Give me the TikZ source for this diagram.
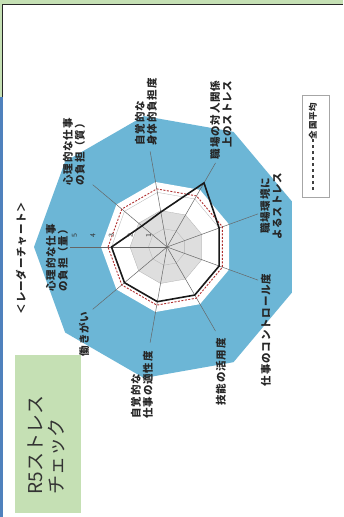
\documentclass[tikz,border=0pt]{standalone}
\usepackage{fontspec}
\usepackage{tikz}
\usetikzlibrary{calc}
\newfontfamily\jp{Noto Sans CJK JP}
\newfontfamily\jplbl[LetterSpace=8]{Noto Sans CJK JP}
\definecolor{bandblue}{RGB}{108,182,214}
\definecolor{memogreen}{RGB}{197,224,180}
\definecolor{edgeblue}{RGB}{79,129,189}
\definecolor{avgred}{RGB}{175,45,45}
\newcommand{\lvl}{18.5}
\newcommand{\nonagon}[1]{($(ctr)+(180:#1)$) \foreach \k in {1,...,8}{ -- ($(ctr)+(180+40*\k:#1)$)} -- cycle}

\begin{document}
\begin{tikzpicture}
  [x=1pt, y=-1pt,
  lbl/.style={font=\jplbl\bfseries\fontsize{10.5}{12}\selectfont, rotate=90, align=center, inner sep=0pt, text=black!85},
  tick/.style={font=\sffamily\fontsize{7.5}{8}\selectfont, rotate=90, inner sep=0pt, text=black!80},
  spoke/.style={draw=black!60, line width=0.5pt},
  gridline/.style={draw=black!30, line width=0.3pt},
  avgline/.style={draw=avgred, dash pattern=on 2pt off 1.5pt, line width=0.9pt},
  selfline/.style={draw=black!90, line width=1.6pt, line join=miter}]
  \useasboundingbox (0,0) rectangle (343,517);
  \fill[white] (0,0) rectangle (343,517);
  % frame
  \fill[memogreen] (0,0) rectangle (343,4);
  \fill[memogreen] (0,0) rectangle (2,97);
  \fill[edgeblue] (0,97) rectangle (3,517);
  \draw[black!85, line width=1.3pt] (2.7,97) -- (2.7,4.6) -- (343,4.6);

  \coordinate (ctr) at (167,247);
  % band and grid
  \fill[bandblue] \nonagon{133};
  \fill[white] \nonagon{66};
  \fill[black!13] \nonagon{37};
  \foreach \n in {1,2,3}
    \draw[gridline] \nonagon{\n*\lvl};
  \foreach \k in {0,...,8}{
    \coordinate (ax\k) at ($(ctr)+(180+40*\k:97)$);
    \draw[spoke] (ctr) -- (ax\k);
  }
  % average and self
  \draw[avgline] \nonagon{59};
  \foreach \k/\v in {0/3,1/1.77,2/1.92,3/4,4/3,5/3,6/3,7/3,8/3}
    \coordinate (p\k) at ($(ctr)+(180+40*\k:\v*\lvl)$);
  \draw[selfline] (p0) -- (p1) -- (p2) -- (p3) -- (p4) -- (p5) -- (p6) -- (p7) -- (p8) -- cycle;

  \foreach \n in {1,...,5}
    \node[tick] (tk\n) at ($(ctr)+(-\n*\lvl,-11)$) {\n};

  % axis labels
  \node[lbl] (l0) at (57,258) {心理的な仕事\\の負担（量）};
  \node[lbl] (l1) at (74,152) {心理的な仕事\\の負担（質）};
  \node[lbl, align=left] (l2) at (146,112) {自覚的な\\身体的負担度};
  \node[lbl, align=right] (l3) at (221,120) {職場の対人関係\\上のストレス};
  \node[lbl] (l4) at (271,206) {職場環境に\\よるストレス};
  \node[lbl] (l5) at (266,330) {仕事のコントロール度};
  \node[lbl] (l6) at (221,372) {技能の活用度};
  \node[lbl, align=left] (l7) at (142,385) {自覚的な\\仕事の適性度};
  \node[lbl] (l8) at (84,334) {働きがい};

  \node[lbl] (ttl) at (21,258) {＜レーダーチャート＞};

  % legend
  \draw[black!35, line width=0.4pt] (302,95) rectangle (329,197);
  \node[lbl, font=\jplbl\bfseries\fontsize{8.5}{9}\selectfont] (lgd) at (313,121) {全国平均};
  \coordinate (lgdA) at (313,190);
  \draw[black!75, line width=1.1pt, dash pattern=on 3pt off 3pt] (lgdA) -- (lgd.west);

  % memo
  \fill[memogreen] (15,355) rectangle (81,513);
  \node[rotate=90, align=left, inner sep=0pt, text=black!80,
    font=\jp\fontsize{19}{21}\selectfont] (memo) at (46,445) {R5ストレス\\チェック};
\end{tikzpicture}
\end{document}
